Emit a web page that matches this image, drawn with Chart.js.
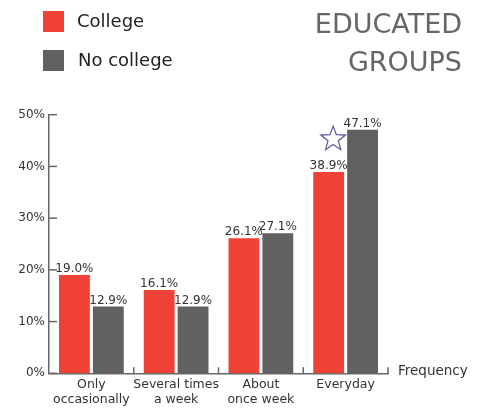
<!DOCTYPE html>
<html lang="en">
  <head>
    <meta charset="UTF-8" />
    <title>Educated groups</title>
    <script src="https://cdn.jsdelivr.net/npm/chart.js"></script>
    <style>
      body { margin: 0; background: #fff; }
    </style>
  </head>
  <body>
    <div style="width: 484px; height: 408px">
      <canvas id="barChart" width="484" height="408"></canvas>
    </div>
    <script>
      const categories = [["Only", "occasionally"], ["Several times", "a week"], ["About", "once week"], ["Everyday"]];
      const collegeValues = [19.0, 16.1, 26.1, 38.9];
      const noCollegeValues = [12.9, 12.9, 27.1, 47.1];
      const seriesNames = ["College", "No college"];
      const titleLines = ["EDUCATED", "GROUPS"];
      const axisTitle = "Frequency";

      const RED = "#ef4136";
      const GREY = "#616163";
      const FONT = "'DejaVu Sans', sans-serif";

      // 별 모양 (윤곽선만)
      const drawStar = (ctx, cx, cy, r) => {
        ctx.beginPath();
        for (let i = 0; i < 10; i++) {
          const rad = i % 2 === 0 ? r : r * 0.42;
          const a = -Math.PI / 2 + (i * Math.PI) / 5;
          const px = cx + rad * Math.cos(a);
          const py = cy + rad * Math.sin(a);
          if (i === 0) ctx.moveTo(px, py);
          else ctx.lineTo(px, py);
        }
        ctx.closePath();
        ctx.stroke();
      };

      const extras = {
        id: "extras",
        afterDraw(chart) {
          const ctx = chart.ctx;
          const area = chart.chartArea;
          const xs = chart.scales.x;
          const ys = chart.scales.y;
          ctx.save();

          // legend
          chart.data.datasets.forEach((ds, i) => {
            const top = 11 + i * 39;
            ctx.fillStyle = ds.backgroundColor;
            ctx.fillRect(43, top, 21, 21);
            ctx.fillStyle = "#222";
            ctx.font = "18px " + FONT;
            ctx.textBaseline = "middle";
            ctx.textAlign = "left";
            ctx.fillText(ds.label, 77 + i, top + 11);
          });

          // title
          ctx.fillStyle = "#666";
          ctx.font = "27px " + FONT;
          ctx.textAlign = "right";
          ctx.textBaseline = "alphabetic";
          ctx.fillText(titleLines[0], 462, 33);
          ctx.fillText(titleLines[1], 462, 71);

          // value labels
          ctx.fillStyle = "#333";
          ctx.font = "12px " + FONT;
          ctx.textAlign = "center";
          ctx.textBaseline = "bottom";
          chart.data.datasets.forEach((ds, di) => {
            chart.getDatasetMeta(di).data.forEach((bar, i) => {
              ctx.fillText(ds.data[i].toFixed(1) + "%", bar.x, bar.y);
            });
          });

          // tick marks
          ctx.strokeStyle = "#666";
          ctx.lineWidth = 1.5;
          ys.ticks.forEach((t) => {
            const y = ys.getPixelForValue(t.value);
            ctx.beginPath();
            ctx.moveTo(area.left, y);
            ctx.lineTo(area.left + 8, y);
            ctx.stroke();
          });
          for (let i = 0; i < categories.length; i++) {
            const bx = i < categories.length - 1 ? (xs.getPixelForValue(i) + xs.getPixelForValue(i + 1)) / 2 : area.right;
            ctx.beginPath();
            ctx.moveTo(bx, area.bottom);
            ctx.lineTo(bx, area.bottom - 6);
            ctx.stroke();
          }

          // axis title
          ctx.fillStyle = "#333";
          ctx.font = "13.5px " + FONT;
          ctx.textAlign = "left";
          ctx.textBaseline = "middle";
          ctx.fillText(axisTitle, area.right + 10, area.bottom - 2);

          // star above top college bar
          const last = chart.getDatasetMeta(0).data[categories.length - 1];
          ctx.strokeStyle = "#5d5293";
          ctx.lineWidth = 1.2;
          drawStar(ctx, last.x + 4.5, last.y - 33, 13);

          ctx.restore();
        },
      };

      const barChart = new Chart(document.getElementById("barChart").getContext("2d"), {
        type: "bar",
        data: {
          labels: categories,
          datasets: [
            {
              label: seriesNames[0],
              data: collegeValues,
              backgroundColor: RED,
              categoryPercentage: 0.8,
              barPercentage: 0.91,
            },
            {
              label: seriesNames[1],
              data: noCollegeValues,
              backgroundColor: GREY,
              categoryPercentage: 0.8,
              barPercentage: 0.91,
            },
          ],
        },
        options: {
          responsive: false,
          animation: false,
          layout: { padding: { top: 114.7, right: 96, left: 0, bottom: 0 } },
          plugins: {
            legend: { display: false },
            tooltip: { enabled: false },
          },
          scales: {
            x: {
              grid: { display: false, drawTicks: false },
              border: { display: true, color: "#666", width: 1.5 },
              ticks: {
                color: "#333",
                font: { family: FONT, size: 12.5 },
                padding: 4,
                maxRotation: 0,
                minRotation: 0,
                autoSkip: false,
              },
              afterFit: (s) => {
                s.height = 34.7;
              },
            },
            y: {
              min: 0,
              max: 50,
              grid: { display: false, drawTicks: false },
              border: { display: true, color: "#666", width: 1.5 },
              ticks: {
                stepSize: 10,
                color: "#333",
                font: { family: FONT, size: 12 },
                padding: 4,
                callback: (v) => v + "%",
              },
              afterFit: (s) => {
                s.width = 49;
              },
            },
          },
        },
        plugins: [extras],
      });
    </script>
  </body>
</html>
